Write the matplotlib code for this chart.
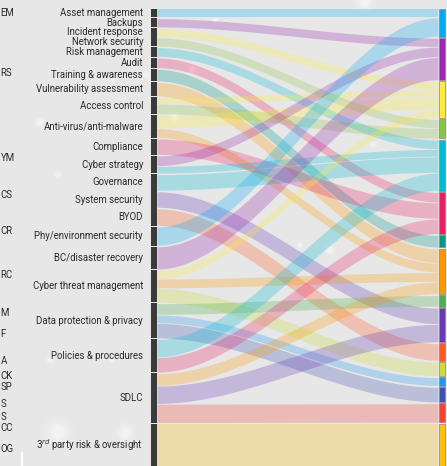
import numpy as np
import matplotlib.pyplot as plt
from matplotlib.patches import Rectangle, Circle

# left column: security domains
domains = ["Asset management", "Backups", "Incident response", "Network security",
           "Risk management", "Audit", "Training & awareness", "Vulnerability assessment",
           "Access control", "Anti-virus/anti-malware", "Compliance", "Cyber strategy",
           "Governance", "System security", "BYOD", "Phy/environment security",
           "BC/disaster recovery", "Cyber threat management", "Data protection & privacy",
           "Policies & procedures", "SDLC", "3$^{rd}$ party risk & oversight"]

# right column: 16 coloured groups
group_colors = ["#03A9F4", "#9C27B0", "#FFEB3B", "#8BC34A", "#00BCD4", "#E91E63",
                "#009688", "#FF9800", "#4CAF50", "#673AB7", "#FF5722", "#CDDC39",
                "#2196F3", "#3F51B5", "#F44336", "#FFC107"]

# flows: (domain index, group index, value)
flow_src = [0, 1, 2, 3, 4, 5, 6, 7, 8, 8, 9, 9, 10, 11, 11, 12, 13, 14, 15, 16,
            17, 17, 17, 18, 18, 18, 19, 19, 20, 20, 20, 21]
flow_dst = [0, 1, 2, 3, 4, 5, 6, 7, 2, 3, 2, 7, 5, 1, 4, 4, 9, 10, 0, 1,
            2, 7, 11, 8, 12, 13, 4, 5, 7, 9, 14, 15]
flow_val = [8, 8.5, 8, 8.5, 9, 10, 12, 14, 6, 10, 13, 9, 16, 10, 7, 16, 16, 17, 19, 23,
            8, 9, 14, 11, 8, 15, 18, 15, 12, 18, 19, 44]

# cut-off labels of the neighbouring panel
side_labels = ["EM", "RS", "YM", "CS", "CR", "RC", "M", "F", "A", "CK", "SP", "S", "S", "CC", "OG"]
side_y = [13, 73, 158, 195, 231, 275, 313, 334, 361, 376, 387, 404, 417, 428, 449]

W, H = 447, 466
fig = plt.figure(figsize=(W / 100, H / 100), dpi=100)
fig.patch.set_facecolor("#e7e7e7")
ax = fig.add_axes([0, 0, 1, 1])
ax.set_xlim(0, W)
ax.set_ylim(H, 0)
ax.axis("off")

top, bottom = 9, 467
xl0, xl1 = 151, 157
xr0, xr1 = 438, 445
pad = 0.7
gap_l = 0.9
n = len(flow_val)
total = sum(flow_val)
s = (bottom - top - n * pad - gap_l * (len(domains) - 1)) / total
gap_r = (bottom - top - n * pad - total * s) / (len(group_colors) - 1)

# node extents
def layout(keys, count, gap):
    sizes = [0.0] * count
    for k, v in zip(keys, flow_val):
        sizes[k] += v * s + pad
    starts, y = [], top
    for sz in sizes:
        starts.append(y)
        y += sz + gap
    return starts, sizes

l_start, l_size = layout(flow_src, len(domains), gap_l)
r_start, r_size = layout(flow_dst, len(group_colors), gap_r)

# position of each flow inside its nodes
l_pos = {}
cur = list(l_start)
for i in sorted(range(n), key=lambda i: (flow_src[i], flow_dst[i])):
    l_pos[i] = cur[flow_src[i]]
    cur[flow_src[i]] += flow_val[i] * s + pad
r_pos = {}
cur = list(r_start)
for i in sorted(range(n), key=lambda i: (flow_dst[i], flow_src[i])):
    r_pos[i] = cur[flow_dst[i]]
    cur[flow_dst[i]] += flow_val[i] * s + pad

# soft background spots
spots = [(40, 122, 3), (53, 128, 2), (93, 127, 2), (147, 75, 3), (113, 80, 2),
         (58, 175, 2), (58, 432, 7), (126, 433, 5), (112, 360, 2), (50, 360, 2),
         (192, 70, 3), (175, 117, 3), (365, 2, 5), (373, 145, 2), (330, 250, 3),
         (215, 20, 2), (300, 245, 2)]
for x, y, r in spots:
    for k in range(4):
        ax.add_patch(Circle((x, y), r * (1 + 0.5 * k), color="white",
                            alpha=0.3 / (k + 1), lw=0, zorder=1))
ax.plot([22, 22], [453, 466], color="white", lw=1.5, zorder=1)

# flows
t = np.linspace(0, 1, 60)
xs = xl1 + (xr0 - xl1) * t
ease = 3 * t ** 2 - 2 * t ** 3
for i in range(n):
    h = flow_val[i] * s
    a0 = l_pos[i] + pad / 2
    b0 = r_pos[i] + pad / 2
    y_top = a0 + (b0 - a0) * ease
    y_bot = y_top + h
    ax.fill_between(xs, y_top, y_bot, color=group_colors[flow_dst[i]],
                    alpha=0.27, lw=0, zorder=2)

# left bar and labels
for k, name in enumerate(domains):
    ax.add_patch(Rectangle((xl0, l_start[k]), xl1 - xl0, l_size[k],
                           color="#3a3a3a", lw=0, zorder=3))
    ax.text(143, l_start[k] + l_size[k] / 2, name, ha="right", va="center",
            fontsize=6.9, family="Roboto", color="#2a2a2a", zorder=4)

# right bar
for k, c in enumerate(group_colors):
    ax.add_patch(Rectangle((xr0 + 0.5, r_start[k]), xr1 - xr0 - 1, r_size[k],
                           facecolor=c, edgecolor="#8a8a8a", lw=0.5, zorder=3))

for lab, y in zip(side_labels, side_y):
    ax.text(0.5, y, lab, ha="left", va="center", fontsize=6.9,
            family="Roboto", color="#2a2a2a", zorder=4)

fig.savefig("out.png", dpi=100, facecolor=fig.get_facecolor())
